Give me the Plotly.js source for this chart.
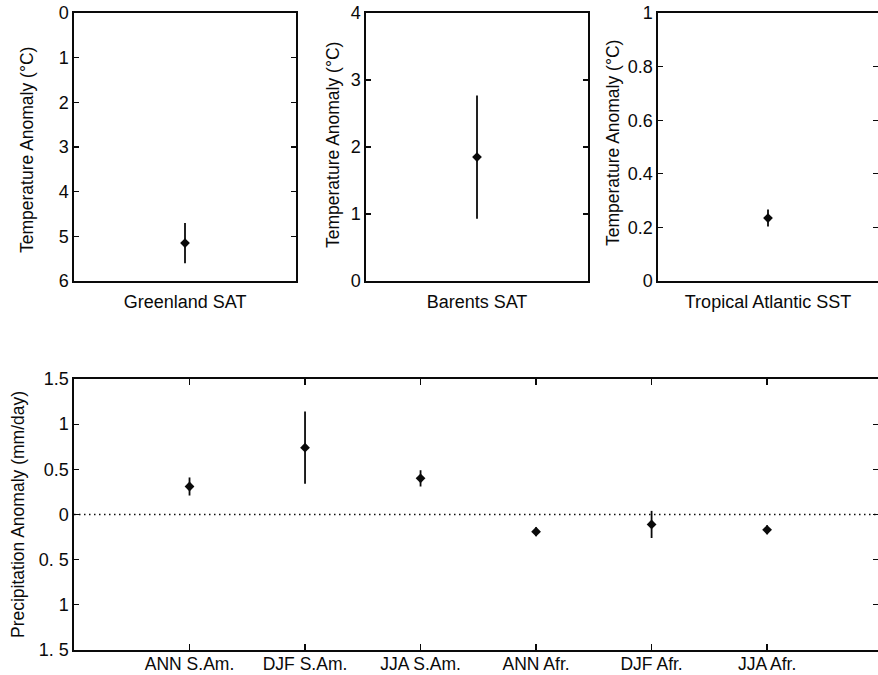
<!DOCTYPE html>
<html>
<head>
<meta charset="utf-8">
<script src="https://cdn.plot.ly/plotly-3.0.1.min.js"></script>
<style>html,body{margin:0;padding:0;background:#fff;overflow:hidden;}</style>
</head>
<body>
<div id="chart" style="width:878px;height:675px;"></div>
<script>
// ---- data ----
const greenlandCat = ['Greenland SAT'];
const greenlandVal = [5.15];
const greenlandErr = [0.45];

const barentsCat = ['Barents SAT'];
const barentsVal = [1.85];
const barentsErr = [0.92];

const tropCat = ['Tropical Atlantic SST'];
const tropVal = [0.235];
const tropErr = [0.032];

const precipCats = ['ANN S.Am.', 'DJF S.Am.', 'JJA S.Am.', 'ANN Afr.', 'DJF Afr.', 'JJA Afr.'];
const precipVal = [0.31, 0.74, 0.40, -0.19, -0.11, -0.17];
const precipErr = [0.10, 0.40, 0.09, 0.05, 0.15, 0.05];

const precipTickVals = [-1.5, -1, -0.5, 0, 0.5, 1, 1.5];
const precipTickText = ['1. 5', '1', '0. 5', '0', '0.5', '1', '1.5'];

// ---- styling ----
const INK = '#0a0a0a';
const FAM = 'Liberation Sans, Arial, Helvetica, sans-serif';
const FONT = {family: FAM, size: 18, color: INK};
const TFONT = {family: FAM, size: 17.5, color: INK};
const CFONT = {family: FAM, size: 17.5, color: INK};

function pt(x, y, err, xa, ya) {
  return {
    type: 'scatter', mode: 'markers', x: x, y: y, xaxis: xa, yaxis: ya,
    marker: {symbol: 'diamond', size: 7.5, color: INK},
    error_y: {type: 'data', array: err, visible: true, color: INK, thickness: 1.8, width: 0},
    showlegend: false, hoverinfo: 'x+y'
  };
}

const traces = [
  pt(greenlandCat, greenlandVal, greenlandErr, 'x', 'y'),
  pt(barentsCat, barentsVal, barentsErr, 'x2', 'y2'),
  pt(tropCat, tropVal, tropErr, 'x3', 'y3'),
  pt(precipCats, precipVal, precipErr, 'x4', 'y4')
];

const W = 878, H = 675;
const px = v => v / W;
const py = v => 1 - v / H;

function xTop(dom, anchor) {
  return {domain: dom, anchor: anchor, type: 'category', range: [-1, 1],
    showline: true, mirror: true, linecolor: INK, linewidth: 1.7,
    ticks: '', showgrid: false, zeroline: false, tickfont: FONT, ticklabelstandoff: 4, fixedrange: true};
}
function yAx(dom, anchor, range, dtick) {
  return {domain: dom, anchor: anchor, range: range, dtick: dtick,
    showline: true, mirror: 'ticks', linecolor: INK, linewidth: 1.7,
    ticks: 'inside', ticklen: 5, tickwidth: 1.3, tickcolor: INK,
    showgrid: false, zeroline: false, tickfont: FONT, fixedrange: true};
}

const topDom = [py(281), py(13)];

const layout = {
  width: W, height: H,
  margin: {l: 0, r: 0, t: 0, b: 0},
  paper_bgcolor: '#fff', plot_bgcolor: '#fff',
  font: FONT,
  xaxis: xTop([px(74), px(296)], 'y'),
  yaxis: yAx(topDom, 'x', [6, 0], 1),
  xaxis2: xTop([px(366), px(588)], 'y2'),
  yaxis2: yAx(topDom, 'x2', [0, 4], 1),
  xaxis3: xTop([px(658), 1], 'y3'),
  yaxis3: yAx(topDom, 'x3', [0, 1], 0.2),
  xaxis4: {domain: [px(74), 1], anchor: 'y4', type: 'category', range: [-1, 5.96],
    showline: true, mirror: 'ticks', linecolor: INK, linewidth: 1.7,
    ticks: 'inside', ticklen: 6, tickwidth: 1.3, tickcolor: INK,
    showgrid: false, zeroline: false, tickfont: CFONT, ticklabelstandoff: -3, fixedrange: true},
  yaxis4: Object.assign(yAx([py(650), py(379)], 'x4', [-1.5, 1.5], 0.5),
    {tickmode: 'array', tickvals: precipTickVals, ticktext: precipTickText}),
  shapes: [{type: 'line', xref: 'x4 domain', x0: 0, x1: 1, yref: 'y4', y0: 0, y1: 0,
    line: {color: INK, width: 1.5, dash: '1.5px,3.5px'}, layer: 'below'}],
  annotations: [
    {text: 'Temperature Anomaly (°C)', xref: 'paper', yref: 'paper', x: px(27), y: py(150), textangle: -90, showarrow: false, font: TFONT, xanchor: 'center', yanchor: 'middle'},
    {text: 'Temperature Anomaly (°C)', xref: 'paper', yref: 'paper', x: px(333), y: py(145), textangle: -90, showarrow: false, font: TFONT, xanchor: 'center', yanchor: 'middle'},
    {text: 'Temperature Anomaly (°C)', xref: 'paper', yref: 'paper', x: px(613), y: py(143), textangle: -90, showarrow: false, font: TFONT, xanchor: 'center', yanchor: 'middle'},
    {text: 'Precipitation Anomaly (mm/day)', xref: 'paper', yref: 'paper', x: px(18), y: py(515), textangle: -90, showarrow: false, font: TFONT, xanchor: 'center', yanchor: 'middle'}
  ]
};

Plotly.newPlot('chart', traces, layout, {displayModeBar: false, staticPlot: true});
</script>
</body>
</html>
